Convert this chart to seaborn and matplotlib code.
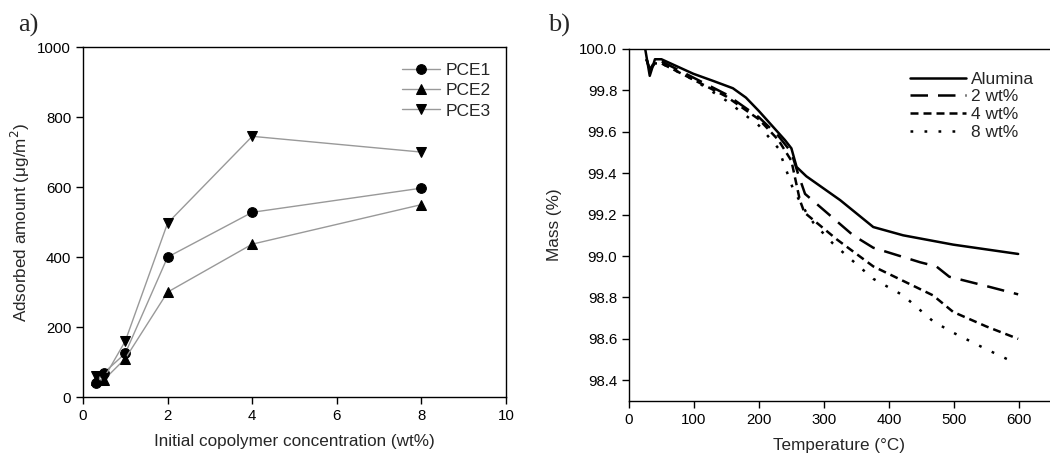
import numpy as np
import pandas as pd
import matplotlib
matplotlib.use('Agg')
import matplotlib.pyplot as plt
import seaborn as sns

# panel a: adsorbed amount vs initial concentration
conc = [0.3, 0.5, 1, 2, 4, 8]
pce1 = [40, 70, 125, 400, 528, 597]
pce2 = [50, 50, 110, 300, 437, 550]
pce3 = [60, 55, 160, 497, 745, 700]

# panel b: TGA curves
t_alu = [25, 32, 40, 50, 99, 130, 160, 180, 200, 220, 240, 250, 258, 273, 325, 376, 422, 499, 599]
m_alu = [100.0, 99.87, 99.95, 99.95, 99.88, 99.845, 99.81, 99.765, 99.70, 99.63,
         99.56, 99.52, 99.43, 99.385, 99.27, 99.14, 99.10, 99.055, 99.01]
t_2 = [27, 32, 40, 50, 100, 150, 200, 230, 250, 260, 271, 345, 376, 448, 473, 493, 550, 599]
m_2 = [99.95, 99.90, 99.94, 99.94, 99.86, 99.78, 99.67, 99.58, 99.50, 99.40,
       99.30, 99.10, 99.04, 98.97, 98.95, 98.90, 98.855, 98.815]
t_4 = [27, 32, 40, 50, 100, 150, 200, 230, 250, 263, 270, 320, 376, 422, 468, 499, 550, 599]
m_4 = [99.95, 99.90, 99.93, 99.93, 99.85, 99.77, 99.66, 99.56, 99.46, 99.27,
       99.21, 99.08, 98.95, 98.88, 98.81, 98.73, 98.66, 98.60]
t_8 = [27, 32, 40, 50, 100, 150, 200, 230, 253, 273, 284, 314, 376, 422, 468, 499, 550, 597]
m_8 = [99.95, 99.90, 99.93, 99.93, 99.85, 99.75, 99.63, 99.52, 99.32, 99.21,
       99.16, 99.06, 98.89, 98.81, 98.685, 98.63, 98.55, 98.48]

sns.set_theme(style='ticks')
plt.rcParams['font.family'] = ['Liberation Sans', 'DejaVu Sans']

fig = plt.figure(figsize=(10.5, 4.57), dpi=100)
ax1 = fig.add_axes([0.079, 0.131, 0.403, 0.766])
ax2 = fig.add_axes([0.599, 0.1225, 0.401, 0.7705])

df_a = pd.DataFrame({
    'conc': conc * 3,
    'amount': pce1 + pce2 + pce3,
    'sample': ['PCE1'] * 6 + ['PCE2'] * 6 + ['PCE3'] * 6,
})
for name, mk in [('PCE1', 'o'), ('PCE2', '^'), ('PCE3', 'v')]:
    sub = df_a[df_a['sample'] == name]
    sns.lineplot(data=sub, x='conc', y='amount', ax=ax1, color='#999999',
                 lw=1.0, marker=mk, markersize=7, markerfacecolor='black',
                 markeredgecolor='black', label=name)

ax1.set_xlim(0, 10)
ax1.set_ylim(0, 1000)
ax1.set_xticks([0, 2, 4, 6, 8, 10])
ax1.set_yticks([0, 200, 400, 600, 800, 1000])
ax1.set_xlabel('Initial copolymer concentration (wt%)', fontsize=12.3, labelpad=8)
ax1.set_ylabel('Adsorbed amount (μg/m$^2$)', fontsize=12.3, labelpad=4)
ax1.legend(loc='upper right', frameon=False, fontsize=12.5, handlelength=2.2,
           handletextpad=0.3, borderaxespad=0.5, labelspacing=0.3)

df_b = pd.concat([
    pd.DataFrame({'T': t_alu, 'M': m_alu, 's': 'Alumina'}),
    pd.DataFrame({'T': t_2, 'M': m_2, 's': '2 wt%'}),
    pd.DataFrame({'T': t_4, 'M': m_4, 's': '4 wt%'}),
    pd.DataFrame({'T': t_8, 'M': m_8, 's': '8 wt%'}),
])
styles = {
    'Alumina': dict(ls='-'),
    '2 wt%': dict(ls=(0, (7, 4))),
    '4 wt%': dict(ls=(0, (3.2, 2))),
    '8 wt%': dict(ls=(0, (1.1, 4.5))),
}
for name, st in styles.items():
    sub = df_b[df_b['s'] == name]
    sns.lineplot(data=sub, x='T', y='M', ax=ax2, color='black', lw=1.8,
                 sort=False, label=name, **st)

ax2.set_xlim(0, 648)
ax2.set_ylim(98.3, 100.0)
ax2.set_xticks([0, 100, 200, 300, 400, 500, 600])
ax2.set_yticks(np.round(np.arange(98.4, 100.01, 0.2), 1))
ax2.yaxis.set_major_formatter(matplotlib.ticker.FormatStrFormatter('%.1f'))
ax2.spines['right'].set_visible(False)
ax2.set_xlabel('Temperature (°C)', fontsize=12.3, labelpad=8)
ax2.set_ylabel('Mass (%)', fontsize=12.3, labelpad=12)
ax2.legend(loc='upper right', bbox_to_anchor=(1.0, 0.98), frameon=False,
           fontsize=12.5, handlelength=3.2, handletextpad=0.3, labelspacing=0.15)

for ax in (ax1, ax2):
    ax.tick_params(direction='out', length=5, width=1, labelsize=10.8, colors='black')
    for sp in ax.spines.values():
        sp.set_linewidth(1.0)
        sp.set_color('black')

fig.text(0.017, 0.93, 'a)', fontsize=19, family='Liberation Serif')
fig.text(0.522, 0.93, 'b)', fontsize=19, family='Liberation Serif')

fig.savefig('out.png', dpi=100)
